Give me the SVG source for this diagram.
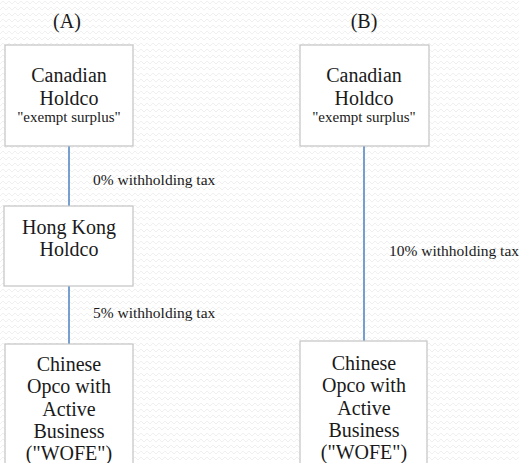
<svg xmlns="http://www.w3.org/2000/svg" width="519" height="463" viewBox="0 0 519 463">
<defs>
<pattern id="zz" width="6" height="6" patternUnits="userSpaceOnUse">
<rect width="6" height="6" fill="#ffffff"/>
<path d="M0,4 L3,1 L6,4" fill="none" stroke="#f0f0f0" stroke-width="1"/>
</pattern>
<style>
.box{fill:#ffffff;stroke:#c4c4c4;stroke-width:1.2}
.t{fill:#1a1a1a;text-anchor:middle}
.big{font-size:20px}
.small{font-size:15px}
.lbl{fill:#1a1a1a;font-size:15.5px}
.con{stroke:#4a7fbf;stroke-width:1.5;fill:none}
</style>
</defs>
<rect width="519" height="463" fill="url(#zz)"/>
<g font-family="'Liberation Serif', 'DejaVu Serif', serif">
<text class="t big" x="67" y="28">(A)</text>
<text class="t big" x="364" y="28">(B)</text>
<g id="connectors">
<line class="con" x1="69" y1="146" x2="69" y2="206"/>
<line class="con" x1="69" y1="286" x2="69" y2="344"/>
<line class="con" x1="364" y1="146" x2="364" y2="341"/>
</g>
<g id="labels">
<text class="lbl" x="93" y="185">0% withholding tax</text>
<text class="lbl" x="93" y="318">5% withholding tax</text>
<text class="lbl" x="389" y="256">10% withholding tax</text>
</g>
<g id="canA">
<rect class="box" x="5" y="45" width="128" height="101"/>
<text class="t big" x="69" y="82">Canadian</text>
<text class="t big" x="69" y="105">Holdco</text>
<text class="t small" x="69" y="122">"exempt surplus"</text>
</g>
<g id="hk">
<rect class="box" x="4" y="206" width="129" height="80"/>
<text class="t big" x="69" y="234">Hong Kong</text>
<text class="t big" x="69" y="256">Holdco</text>
</g>
<g id="cnA">
<rect class="box" x="5" y="344" width="128" height="125"/>
<text class="t big" x="69" y="371">Chinese</text>
<text class="t big" x="69" y="393">Opco with</text>
<text class="t big" x="69" y="416">Active</text>
<text class="t big" x="69" y="438">Business</text>
<text class="t big" x="69" y="460">("WOFE")</text>
</g>
<g id="canB">
<rect class="box" x="300" y="45" width="129" height="101"/>
<text class="t big" x="364" y="82">Canadian</text>
<text class="t big" x="364" y="105">Holdco</text>
<text class="t small" x="364" y="122">"exempt surplus"</text>
</g>
<g id="cnB">
<rect class="box" x="300" y="341" width="127" height="128"/>
<text class="t big" x="364" y="370">Chinese</text>
<text class="t big" x="364" y="392">Opco with</text>
<text class="t big" x="364" y="415">Active</text>
<text class="t big" x="364" y="437">Business</text>
<text class="t big" x="364" y="459">("WOFE")</text>
</g>
</g>
</svg>
